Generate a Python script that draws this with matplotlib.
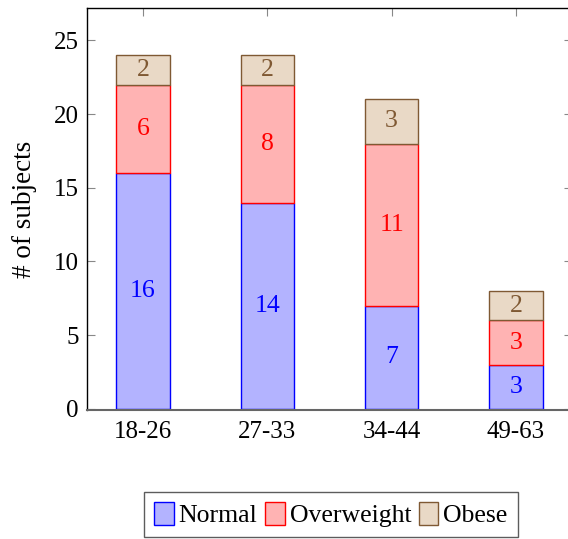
import matplotlib
matplotlib.use("Agg")
import matplotlib.pyplot as plt
import numpy as np

categories = ["18-26", "27-33", "34-44", "49-63"]
normal = [16, 14, 7, 3]
overweight = [6, 8, 11, 3]
obese = [2, 2, 3, 2]
series_names = ["Normal", "Overweight", "Obese"]
yticks = [0, 5, 10, 15, 20, 25]

plt.rcParams['font.family'] = ['Liberation Serif', 'DejaVu Serif']
plt.rcParams['mathtext.fontset'] = 'stix'

W, H = 568, 539
fig = plt.figure(figsize=(W/100, H/100), dpi=100)
left, right, top, bottom = 87, 572, 8, 410
ax = fig.add_axes([left/W, 1-bottom/H, (right-left)/W, (bottom-top)/H])

x = np.arange(len(categories))
fills = ['#b3b3ff', '#ffb3b3', '#e9d9c6']
edges = ['#0000ff', '#ff0000', '#7f5933']
textc = ['#0000ff', '#ff0000', '#7f5933']
data = [normal, overweight, obese]
bw = 0.43
base = np.zeros(len(categories))
handles = []
for vals, fc, ec, tc, name in zip(data, fills, edges, textc, series_names):
    vals = np.array(vals, dtype=float)
    b = ax.bar(x, vals, bw, bottom=base, color=fc, edgecolor=ec, linewidth=1.0, label=name, zorder=2)
    handles.append(b)
    for xi, v, b0 in zip(x, vals, base):
        ax.text(xi, b0 + v/2, f"{int(v)}", ha='center', va='center', color=tc, fontsize=18.5, zorder=3)
    base = base + vals

ax.set_xlim(-0.45, 3.45)
ax.set_ylim(-0.08, 27.2)
ax.set_xticks(x)
ax.set_xticklabels(categories, fontsize=18)
ax.set_yticks(yticks)
ax.set_yticklabels([str(t) for t in yticks], fontsize=18)
ax.tick_params(axis='both', direction='in', length=6, width=0.8, color='#888888', top=True, right=True, pad=8)
ax.tick_params(axis='y', pad=6)
for s in ax.spines.values():
    s.set_linewidth(1.0)
    s.set_color('black')
ax.spines['bottom'].set_color('#666666')
ax.spines['bottom'].set_linewidth(1.5)
ax.set_ylabel("# of subjects", fontsize=19.5, labelpad=12)

leg = fig.legend(handles=handles, labels=series_names, loc='center', bbox_to_anchor=(331/W, 1-514.5/H),
                 ncol=3, fontsize=18.5, frameon=True, fancybox=False, edgecolor='#333333',
                 handlelength=0.75, handleheight=1.0, handletextpad=0.2, columnspacing=0.3,
                 borderpad=0.4, borderaxespad=0)
leg.get_frame().set_linewidth(1.0)

fig.savefig("out.png", dpi=100)
